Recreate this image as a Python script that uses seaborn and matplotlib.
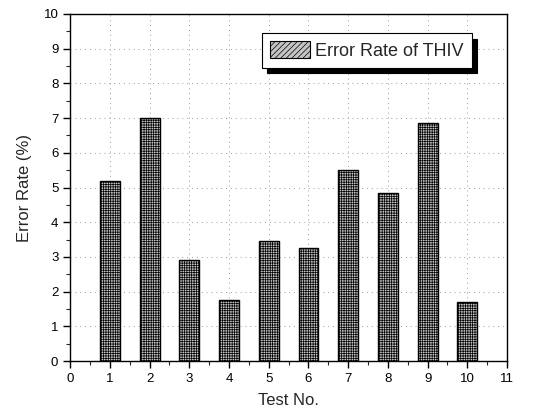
import matplotlib
matplotlib.use("Agg")
import matplotlib.pyplot as plt
import seaborn as sns
import pandas as pd
from matplotlib.patches import Patch
from matplotlib.ticker import MultipleLocator

tests = [1, 2, 3, 4, 5, 6, 7, 8, 9, 10]
error_rates = [5.2, 7.0, 2.9, 1.75, 3.45, 3.25, 5.5, 4.85, 6.85, 1.7]
series_label = "Error Rate of THIV"
x_label = "Test No."
y_label = "Error Rate (%)"

df = pd.DataFrame({"test": tests, "rate": error_rates})

sns.set_style("ticks")
plt.rcParams['font.family'] = ['Liberation Sans', 'DejaVu Sans']
plt.rcParams['hatch.color'] = '#7a7a7a'
plt.rcParams['hatch.linewidth'] = 0.5

fig = plt.figure(figsize=(5.44, 4.09), dpi=100)
ax = fig.add_axes([0.129, 0.117, 0.803, 0.849])

sns.barplot(data=df, x="test", y="rate", native_scale=True, width=0.5,
            color="#b8b8b8", edgecolor="black", linewidth=1.0, ax=ax,
            errorbar=None, zorder=3)
for p in ax.patches:
    p.set_hatch("+++++++")
    p.set_facecolor("#c4c4c4")

ax.set_xlim(0, 11)
ax.set_ylim(0, 10)
ax.xaxis.set_major_locator(MultipleLocator(1))
ax.xaxis.set_minor_locator(MultipleLocator(0.5))
ax.yaxis.set_major_locator(MultipleLocator(1))
ax.yaxis.set_minor_locator(MultipleLocator(0.5))
ax.tick_params(axis='both', which='major', direction='out', length=5, width=1.0,
               labelsize=9.5, colors='black')
ax.tick_params(axis='both', which='minor', direction='out', length=3, width=0.8)
for s in ax.spines.values():
    s.set_visible(True)
    s.set_linewidth(1.0)
    s.set_color('black')

ax.grid(True, which='major', linestyle=(0, (1, 4)), color='#999999', linewidth=0.7, zorder=0)
ax.set_axisbelow(True)

ax.set_xlabel(x_label, fontsize=12, labelpad=6)
ax.set_ylabel(y_label, fontsize=12, labelpad=8)

handle = Patch(facecolor="#c4c4c4", edgecolor="black", hatch="//////", linewidth=0.8)
leg = ax.legend([handle], [series_label], loc='upper right',
                bbox_to_anchor=(0.94, 0.97), fontsize=13, frameon=True,
                fancybox=False, edgecolor='black', framealpha=1,
                shadow={'color': 'black', 'alpha': 1, 'ox': 4, 'oy': -4},
                handlelength=2.2, handleheight=1.0, borderpad=0.45,
                handletextpad=0.3)
leg.get_frame().set_linewidth(0.8)

fig.savefig("out.png", dpi=100)
